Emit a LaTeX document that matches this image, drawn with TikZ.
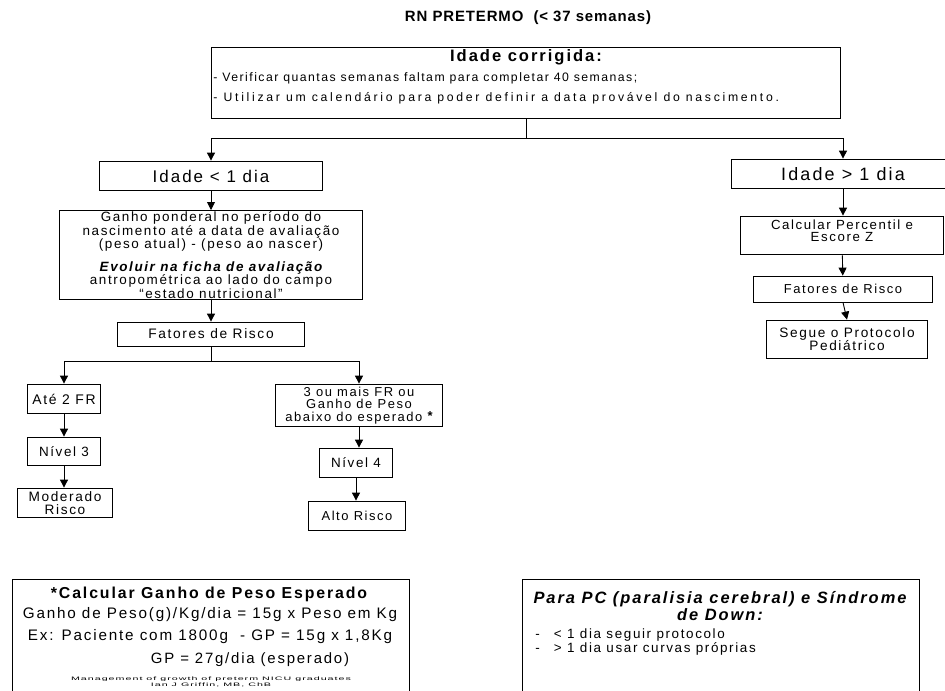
\documentclass[tikz,border=0pt]{standalone}
\usepackage{fontspec}
\setmainfont{Liberation Sans}[LetterSpace=12]
\usepackage{tikz}
\usetikzlibrary{positioning, arrows.meta}

\newcommand{\fsz}[2]{\fontsize{#1}{#2}\selectfont}

\begin{document}
\begin{tikzpicture}[
    x=1bp, y=-1bp,
    >={Triangle[length=8bp, width=8bp]},
    line width=0.9bp,
    font=\fsz{13}{12}
]

    % Flow boxes and arrows
    \tikzset{
        fbox/.style={draw, rectangle, align=center, inner sep=1bp},
        wire/.style={->}
    }

    % Page area (the lower boxes run off the edge)
    \useasboundingbox (0,0) rectangle (945,691);
    \clip (0,0) rectangle (945,691);

    % Title
    \node[font=\fsz{15}{15}\bfseries\addfontfeature{LetterSpace=6}] (title) at (528,18) {RN PRETERMO \ (< 37 semanas)};

    % Idade corrigida
    \node[fbox, minimum width=632, minimum height=72] (top) at (526,83) {};
    \node[font=\fsz{16.6}{16}\bfseries] (topHead) at (526,57) {Idade corrigida:};
    \node[anchor=west, font=\fsz{12.3}{12}, inner sep=0pt] (topL1) at (213,78)
        {- Verificar quantas semanas faltam para completar 40 semanas;};
    \node[anchor=west, font=\fsz{12.3}{12}\addfontfeature{LetterSpace=22}, inner sep=0pt] (topL2) at (213,98)
        {- Utilizar um calendário para poder definir a data provável do nascimento.};

    % Split below the top box
    \draw (top.south) -- ++(0,19) coordinate (split1);

    % Idade < 1 dia branch
    \node[fbox, minimum width=224, minimum height=30, font=\fsz{17}{16}] (lt1) at (211,176) {Idade < 1 dia};
    \node[fbox, minimum width=304, minimum height=82, font=\fsz{13.5}{11.8}] (lt2) at (211,255)
        {Ganho ponderal no período do\\nascimento até a data de avaliação\\(peso atual) - (peso ao nascer)\\[9bp]
         \bfseries\itshape Evoluir na ficha de avaliação\\antropométrica ao lado do campo\\“estado nutricional”};
    \node[fbox, minimum width=188, minimum height=24, font=\fsz{13.8}{12}] (lt3) at (211,334) {Fatores de Risco};

    \draw[wire] (split1) -| (lt1.north);
    \draw[wire] (lt1) -- (lt2);
    \draw[wire] (lt2) -- (lt3);

    % Risk factor split
    \draw (lt3.south) -- ++(0,15) coordinate (split2);

    \node[fbox, minimum width=74, minimum height=30, font=\fsz{14}{12}] (b1) at (64,399) {Até 2 FR};
    \node[fbox, minimum width=74, minimum height=29, font=\fsz{13.5}{12}] (b2) at (64,451.5) {Nível 3};
    \node[fbox, minimum width=96, minimum height=30, font=\fsz{13.7}{12.5}] (b3) at (65,503) {Moderado\\Risco};

    \node[fbox, minimum width=168, minimum height=43, font=\fsz{13}{12.5}] (c1) at (359,405.5)
        {3 ou mais FR ou\\Ganho de Peso\\abaixo do esperado \raisebox{1bp}{\bfseries *}};
    \node[fbox, minimum width=74, minimum height=30, font=\fsz{13.5}{12}] (c2) at (356,463) {Nível 4};
    \node[fbox, minimum width=98, minimum height=30] (c3) at (357,516) {Alto Risco};

    \draw[wire] (split2) -| (b1.north);
    \draw[wire] (split2) -| (c1.north);
    \draw[wire] (b1) -- (b2);
    \draw[wire] (b2.south) -- (b2.south |- b3.north);
    \draw[wire] (c1.south) -- (c1.south |- c2.north);
    \draw[wire] (c2.south) -- (c2.south |- c3.north);

    % Idade > 1 dia branch
    \node[fbox, minimum width=224, minimum height=30, font=\fsz{18}{16}] (rt1) at (843,174) {Idade > 1 dia};
    \node[fbox, minimum width=204, minimum height=39] (rt2) at (842,235.5) {};
    \node[align=center, font=\fsz{13.3}{12.5}] (rt2txt) at (842,231) {Calcular Percentil e\\Escore Z};
    \node[fbox, minimum width=180, minimum height=26] (rt3) at (843,289) {Fatores de Risco};
    \node[fbox, minimum width=161, minimum height=39, font=\fsz{13.7}{13}] (rt4) at (847,339.5) {Segue o Protocolo\\Pediátrico};

    \draw[wire] (split1) -| (rt1.north);
    \draw[wire] (rt1.south) -- (rt1.south |- rt2.north);
    \draw[wire] (rt2) -- (rt3);
    \draw[wire] (rt3.south) -- (rt4.north);

    % Notes at the foot (cut by the page edge)
    \node[fbox, minimum width=398, minimum height=150, anchor=north] (calc) at (211,579) {};
    \node[font=\fsz{15.9}{15}\bfseries] (calcHead) at (209,594) {*Calcular Ganho de Peso Esperado};
    \node[font=\fsz{15.3}{15}] (calcL1) at (210,615) {Ganho de Peso(g)/Kg/dia = 15g x Peso em Kg};
    \node[font=\fsz{15.3}{15}] (calcL2) at (210,637) {Ex: Paciente com 1800g \ - GP = 15g x 1,8Kg};
    \node[font=\fsz{15}{15}] (calcL3) at (250,660) {GP = 27g/dia (esperado)};
    \node[font=\fsz{5}{4.5}\addfontfeature{FakeStretch=2.15, LetterSpace=20}, align=center] (calcRef) at (211,682)
        {Management of growth of preterm NICU graduates\\Ian J Griffin, MB, ChB};

    \node[fbox, minimum width=398, minimum height=150, anchor=north] (pc) at (721,579) {};
    \node[font=\fsz{16.5}{10.5}\bfseries\itshape, align=center] (pcHead) at (720,606)
        {Para PC (paralisia cerebral) e Síndrome\\de Down:};
    \node[font=\fsz{13.5}{11}, align=left, anchor=west, inner sep=0pt] (pcList) at (535,642)
        {-\hspace{14bp}< 1 dia seguir protocolo\\-\hspace{14bp}> 1 dia usar curvas próprias};

\end{tikzpicture}
\end{document}
